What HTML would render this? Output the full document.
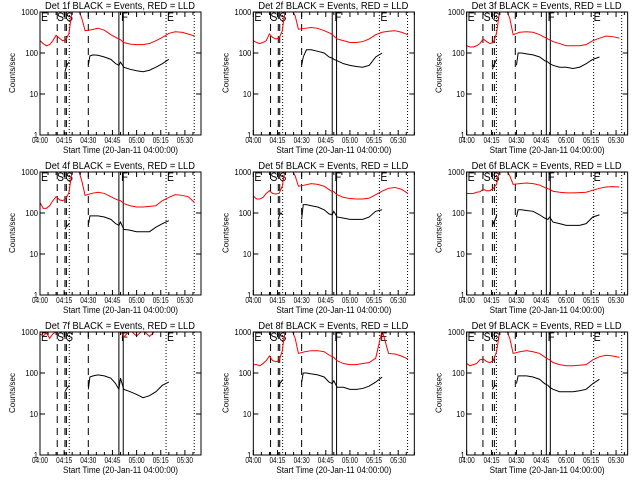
<!DOCTYPE html>
<html><head><meta charset="utf-8"><style>
html,body{margin:0;padding:0;background:#fff}
svg{display:block}
text{font-family:"Liberation Sans",sans-serif;fill:#000}
</style></head><body>
<svg id="chart" width="640" height="480" viewBox="0 0 640 480" xmlns="http://www.w3.org/2000/svg"></svg>
<script>
// ---- data ----
const panelNames = ["Det 1f","Det 2f","Det 3f","Det 4f","Det 5f","Det 6f","Det 7f","Det 8f","Det 9f"];
const xTickLabels = ["04:00","04:15","04:30","04:45","05:00","05:15","05:30"];
const yTickLabels = ["1","10","100","1000"];
const yTickValues = [1,10,100,1000];
const eventTimesA = [10.7,15.5,16.4,18.2,30,49,51.7,78.3,95.8];
const eventTimesC = [9.8,15.5,16.7,17.9,29.3,48,50.4,76.5,93.4];
const eventStyles = ["dash","dash","dash","dot","dash","solid","solid","dot","dot"];
const redT = [0,2,4,6,8,10,12,14,16,18,19,20,22,24,26,28,32,36,40,44,48,50,52,56,60,64,68,72,76,80,84,88,92,96];
const red1 = [200,170,150,160,200,270,230,200,210,300,600,1100,1100,1100,700,350,370,400,360,280,230,210,180,165,160,160,170,200,240,300,330,320,290,260];
const red2 = [200,180,170,180,200,290,240,220,230,350,700,1100,1100,1100,800,380,400,420,400,350,300,260,220,200,180,180,190,220,280,320,340,350,320,280];
const red3 = [150,140,140,150,170,220,190,170,180,300,600,1100,1100,1100,700,280,320,330,320,280,230,210,190,170,150,150,150,160,200,230,260,250,230,200];
const red4 = [180,130,130,150,200,250,210,200,220,320,600,1100,1100,1100,600,270,300,320,300,250,210,200,170,150,140,140,145,150,200,240,280,270,250,180];
const red5 = [260,220,220,240,300,350,300,290,300,450,800,1100,1100,1100,800,450,480,520,500,450,350,330,280,240,225,220,220,230,280,340,400,420,380,300];
const red6 = [300,300,300,320,330,380,350,350,400,500,800,1100,1100,1100,800,500,520,540,520,480,400,380,340,320,310,310,315,320,360,400,430,440,430,420];
const red7 = [900,800,950,700,900,1000,1100,1100,1100,1100,1100,1100,1100,1100,1100,1100,1100,1100,1100,1100,1100,1100,750,1100,800,1100,780,1100,1100,1100,1100,1100,1100,1100];
const red8 = [160,160,150,170,200,260,200,190,200,350,700,1100,1100,1100,700,300,330,350,350,330,260,240,200,170,160,160,170,180,230,1100,300,290,260,220];
const red9 = [170,150,160,170,210,220,190,180,200,330,600,1100,1100,1100,700,300,330,350,330,300,230,210,180,160,150,150,155,160,210,250,270,260,240,200];
const blackAT = [15.5,16.3,17.2,18.2];
const blackA1 = [35,45,55,60]; const blackA2 = [50,60,65,70]; const blackA3 = [40,50,60,70];
const blackA4 = [40,45,50,55]; const blackA5 = [70,90,100,90]; const blackA6 = [50,60,70,90];
const blackA7 = [35,40,45,50]; const blackA8 = [45,55,60,70]; const blackA9 = [40,45,50,50];
const blackBT = [30,31,33,36,40,44,47,49,50,52,56,60,64,68,72,76,80];
const blackB1 = [50,85,90,88,80,70,55,50,60,45,40,37,35,38,45,55,70];
const blackB2 = [50,80,120,120,110,100,80,75,70,65,55,50,47,45,50,80,100];
const blackB3 = [50,100,100,95,90,80,65,60,55,50,45,45,42,45,55,70,80];
const blackB4 = [50,85,85,85,80,70,55,50,60,40,38,35,35,35,45,55,65];
const blackB5 = [70,160,160,150,140,120,95,90,110,80,75,70,70,70,80,110,120];
const blackB6 = [80,120,120,115,110,90,75,70,80,60,55,50,50,50,55,80,90];
const blackB7 = [40,80,85,90,85,75,55,40,75,40,35,30,25,28,35,50,60];
const blackB8 = [60,100,100,95,90,80,60,55,65,45,45,40,40,42,48,60,80];
const blackB9 = [55,85,85,85,80,70,55,50,45,40,35,35,35,37,40,55,70];
const reds = [red1,red2,red3,red4,red5,red6,red7,red8,red9];
const blacksA = [blackA1,blackA2,blackA3,blackA4,blackA5,blackA6,blackA7,blackA8,blackA9];
const blacksB = [blackB1,blackB2,blackB3,blackB4,blackB5,blackB6,blackB7,blackB8,blackB9];

const NS="http://www.w3.org/2000/svg";
const svg=document.getElementById('chart');
function mk(tag,attrs,parent){const e=document.createElementNS(NS,tag);for(const k in attrs)e.setAttribute(k,attrs[k]);(parent||svg).appendChild(e);return e;}

const PL=40,PR=201,PT=12,PB=135,DEC=41;
panelNames.forEach((name,i)=>{
  const col=i%3,row=Math.floor(i/3);
  const ox=col*213.33,oy=row*160;
  const ppm = col<2?1.61:1.66;
  const events = col<2?eventTimesA:eventTimesC;
  const xs=t=>ox+PL+t*ppm;
  const ys=v=>oy+PB-Math.log10(Math.max(v,0.5))*DEC;
  const g=mk('g',{});
  
  
  const cp=mk('clipPath',{id:'clip'+i},g);
  mk('rect',{x:ox+PL,y:oy+PT,width:PR-PL,height:PB-PT},cp);
  // title
  const tt=mk('text',{x:ox+45,y:oy+9,'font-size':'10',textLength:150,lengthAdjust:'spacingAndGlyphs'},g);
  tt.textContent=name+" BLACK = Events, RED = LLD";
  
  
  // event lines
  events.forEach((t,k)=>{
    const st=eventStyles[k];
    const ln=mk('line',{x1:xs(t),x2:xs(t),y1:oy+PT,y2:oy+PB,stroke:'#000','stroke-width':1,'stroke-dasharray':st=='dash'?'7,5':(st=='dot'?'1,2':'none')},g);
    
    
  });
  // letters
  [["E",1],["S",17],["S",26],["F",81],["E",127]].forEach(([c,dx])=>{
    const l=mk('text',{x:ox+PL+dx,y:oy+21,'font-size':'12',textLength:7,lengthAdjust:'spacingAndGlyphs'},g);
    l.textContent=c;
    
    
  });
  // series
  const rp=mk('polyline',{points:redT.filter(t=>t<=events[8]+0.5).map((t,k)=>xs(t)+','+ys(reds[i][k])).join(' '),fill:'none',stroke:'#ff0000','stroke-width':1,'clip-path':'url(#clip'+i+')'},g);
  
  
  const ba=mk('polyline',{points:blackAT.map((t,k)=>xs(t)+','+ys(blacksA[i][k])).join(' '),fill:'none',stroke:'#000','stroke-width':1},g);
  
  
  const bb=mk('polyline',{points:blackBT.map((t,k)=>xs(t)+','+ys(blacksB[i][k])).join(' '),fill:'none',stroke:'#000','stroke-width':1},g);
  
  
  // frame
  const fr=mk('rect',{x:ox+PL,y:oy+PT,width:PR-PL,height:PB-PT,fill:'none',stroke:'#000','stroke-width':1},g);
  
  
  // x ticks
  for(let m=0;m*ppm<=PR-PL;m+=5){
    const major=m%15==0, len=major?5:3;
    mk('line',{x1:xs(m),x2:xs(m),y1:oy+PB,y2:oy+PB-len,stroke:'#000'},g);
    mk('line',{x1:xs(m),x2:xs(m),y1:oy+PT,y2:oy+PT+len,stroke:'#000'},g);
  }
  xTickLabels.forEach((lab,k)=>{
    const tx=mk('text',{x:xs(k*15)-8,y:oy+143,'font-size':'8',textLength:16,lengthAdjust:'spacingAndGlyphs'},g);
    tx.textContent=lab;
    
    
  });
  const xt=mk('text',{x:ox+63,y:oy+153,'font-size':'9',textLength:115,lengthAdjust:'spacingAndGlyphs'},g);
  xt.textContent="Start Time (20-Jan-11 04:00:00)";
  
  
  // y ticks
  yTickValues.forEach((v,k)=>{
    mk('line',{x1:ox+PL,x2:ox+PL+5,y1:ys(v),y2:ys(v),stroke:'#000'},g);
    mk('line',{x1:ox+PR,x2:ox+PR-5,y1:ys(v),y2:ys(v),stroke:'#000'},g);
    const w=yTickLabels[k].length*4.2;
    const ty=mk('text',{x:ox+PL-2-w,y:ys(v)+3,'font-size':'8',textLength:w,lengthAdjust:'spacingAndGlyphs'},g);
    ty.textContent=yTickLabels[k];
    
    
  });
  const yt=mk('text',{x:0,y:0,'text-anchor':'middle','font-size':'8',transform:'translate('+(ox+15)+','+(oy+73)+') rotate(-90)'},g);
  yt.textContent="Counts/sec";
  
  
});
</script>
</body></html>
